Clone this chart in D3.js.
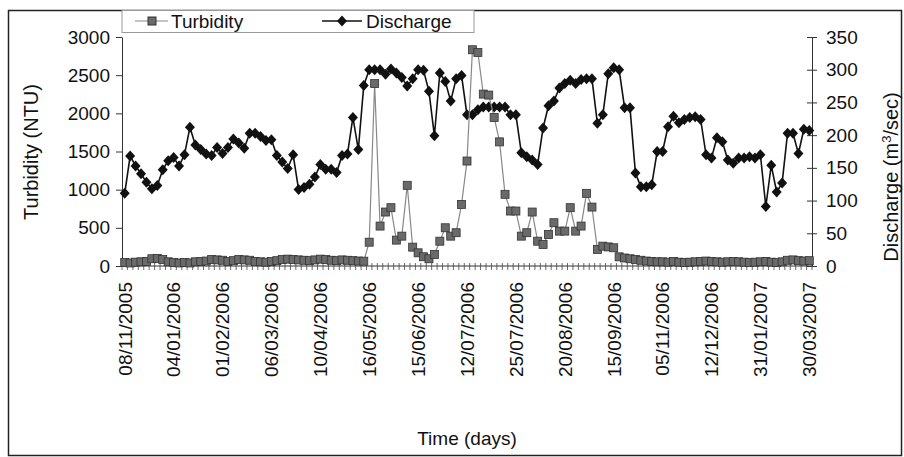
<!DOCTYPE html>
<html><head><meta charset="utf-8">
<script src="https://cdn.jsdelivr.net/npm/d3@7"></script>
<style>
body{margin:0;background:#fff}
svg{display:block}
text{font-family:"Liberation Sans",Arial,sans-serif;fill:#111}
</style>
</head><body>
<svg id="c" width="904" height="457"></svg>
<script>
const tickLabels = ["08/11/2005","04/01/2006","01/02/2006","06/03/2006","10/04/2006","16/05/2006","15/06/2006","12/07/2006","25/07/2006","20/08/2006","15/09/2006","05/11/2006","12/12/2006","31/01/2007","30/03/2007"];
const labelEvery = 9;
const turbidityTicks = [0,500,1000,1500,2000,2500,3000];
const dischargeTicks = [0,50,100,150,200,250,300,350];

const discharge = [
111,168,153,141,128,118,123,147,161,166,153,170,212,185,178,171,169,181,172,181,194,188,180,203,203,198,192,193,169,159,149,170,117,120,125,136,155,148,148,143,169,171,227,178,
276,300,300,300,293,301,295,288,275,286,300,299,267,199,295,282,252,286,291,231,231,239,243,243,243,243,243,231,231,173,167,162,155,211,245,252,272,279,284,279,285,286,286,218,231,294,303,
300,242,242,142,121,121,124,175,175,213,229,219,224,227,228,224,170,165,196,190,162,157,165,165,167,165,170,91,154,113,127,203,203,172,209,207];

const turbidity = [
45,40,50,55,60,95,100,85,55,45,40,45,40,55,60,65,85,80,75,60,70,85,80,75,60,55,50,60,70,85,90,85,80,75,70,80,90,85,75,70,80,75,70,65,
63,312,2390,523,707,764,339,391,1057,247,173,121,95,151,325,501,391,436,807,1375,2833,2798,2252,2239,1946,1626,939,720,720,391,436,707,325,282,413,567,457,457,764,457,523,952,772,217,260,250,239,
120,105,95,85,75,65,60,55,55,50,60,50,45,50,55,60,65,60,55,50,55,60,55,50,45,50,55,60,50,45,55,75,80,70,65,70];

(function(){
const N = discharge.length;
const pL = 122, pR = 812, pT = 37, pB = 266;
const svg = d3.select("#c");

svg.append("rect").attr("x",8.5).attr("y",10.5).attr("width",893).attr("height",445)
  .attr("fill","none").attr("stroke","#222").attr("stroke-width",1.5);

const x = d3.scaleBand().domain(d3.range(N)).range([pL,pR]).padding(0);
const bw = x.bandwidth();
const cx = i => x(i) + bw/2;
const yL = d3.scaleLinear().domain([0,3000]).range([pB,pT]);
const yR = d3.scaleLinear().domain([0,350]).range([pB,pT]);

const gL = svg.append("g").attr("transform",`translate(${pL},0)`)
  .call(d3.axisLeft(yL).tickValues(turbidityTicks).tickFormat(d3.format("d")).tickSizeInner(6).tickSizeOuter(0).tickPadding(6));
gL.selectAll("text").style("font-size","19px").attr("font-family","Liberation Sans, Arial");
gL.selectAll("path,line").attr("stroke","#333");

const gR = svg.append("g").attr("transform",`translate(${pR},0)`)
  .call(d3.axisRight(yR).tickValues(dischargeTicks).tickFormat(d3.format("d")).tickSizeInner(5).tickSizeOuter(0).tickPadding(9));
gR.selectAll(".tick line").attr("x1",-5).attr("x2",5);
gR.selectAll("text").style("font-size","19px").attr("font-family","Liberation Sans, Arial");
gR.selectAll("path,line").attr("stroke","#333");

svg.append("line").attr("x1",pL).attr("x2",pR).attr("y1",pB).attr("y2",pB).attr("stroke","#333");
svg.append("g").selectAll("line").data(d3.range(N+1)).join("line")
  .attr("x1",i=>pL+i*bw).attr("x2",i=>pL+i*bw)
  .attr("y1",pB-3).attr("y2",pB+4).attr("stroke","#444").attr("stroke-width",0.8);
svg.append("g").selectAll("text").data(tickLabels).join("text")
  .attr("transform",(d,k)=>`translate(${cx(k*labelEvery)},282) rotate(-90)`)
  .attr("text-anchor","end").attr("dy","0.36em").style("font-size","19px").text(d=>d);

const lineD = d3.line().x((d,i)=>cx(i)).y(d=>yR(d));
svg.append("path").datum(discharge).attr("d",lineD).attr("fill","none").attr("stroke","#111").attr("stroke-width",1.6);
const diamond = "M0,-5.5L5,0L0,5.5L-5,0Z";
svg.append("g").selectAll("path").data(discharge).join("path")
  .attr("d",diamond).attr("transform",(d,i)=>`translate(${cx(i)},${yR(d)})`).attr("fill","#111");

const lineT = d3.line().x((d,i)=>cx(i)).y(d=>yL(d));
svg.append("path").datum(turbidity).attr("d",lineT).attr("fill","none").attr("stroke","#888").attr("stroke-width",1.2);
svg.append("g").selectAll("rect").data(turbidity).join("rect")
  .attr("x",(d,i)=>cx(i)-4).attr("y",d=>yL(d)-4).attr("width",8).attr("height",8)
  .attr("fill","#6a6a6a").attr("stroke","#333").attr("stroke-width",0.8);

svg.append("rect").attr("x",pL).attr("y",10.5).attr("width",352).attr("height",22)
  .attr("fill","#fff").attr("stroke","#999");
svg.append("line").attr("x1",135).attr("x2",168).attr("y1",21).attr("y2",21).attr("stroke","#888").attr("stroke-width",1.2);
svg.append("rect").attr("x",148).attr("y",17).attr("width",8).attr("height",8).attr("fill","#6a6a6a").attr("stroke","#333");
svg.append("text").attr("x",171).attr("y",28).style("font-size","19px").text("Turbidity");
svg.append("line").attr("x1",322).attr("x2",362).attr("y1",21).attr("y2",21).attr("stroke","#111").attr("stroke-width",1.6);
svg.append("path").attr("d",diamond).attr("transform","translate(342,21)").attr("fill","#111");
svg.append("text").attr("x",366).attr("y",28).style("font-size","19px").text("Discharge");

svg.append("text").attr("transform","translate(38,152) rotate(-90)").attr("text-anchor","middle")
  .style("font-size","20px").text("Turbidity (NTU)");
const rt = svg.append("text").attr("transform","translate(898,177) rotate(-90)").attr("text-anchor","middle")
  .style("font-size","20px");
rt.append("tspan").text("Discharge (m");
rt.append("tspan").attr("baseline-shift","super").style("font-size","13px").text("3");
rt.append("tspan").text("/sec)");
svg.append("text").attr("x",467).attr("y",445).attr("text-anchor","middle").style("font-size","19px").text("Time (days)");
})();
</script>
</body></html>
